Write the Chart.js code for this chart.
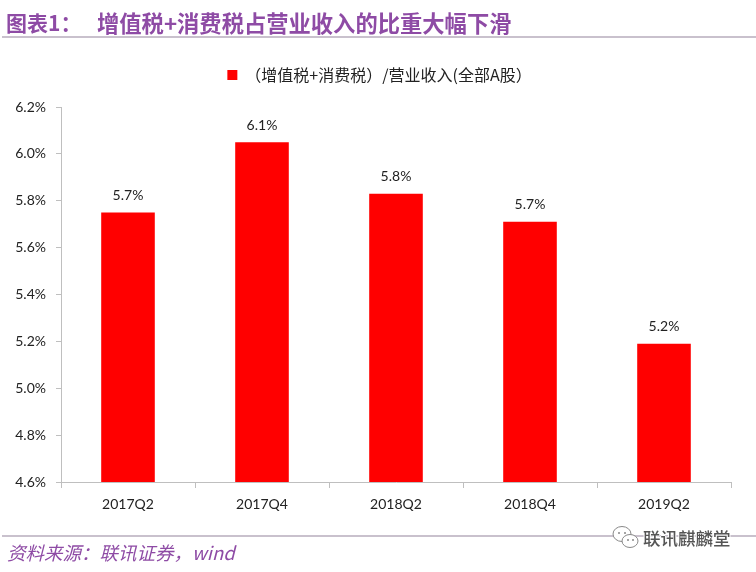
<!DOCTYPE html>
<html>
<head>
<meta charset="utf-8">
<script src="https://cdn.jsdelivr.net/npm/chart.js@4"></script>
<style>
  html, body { margin: 0; padding: 0; background: #fff; }
  #wrap { position: relative; width: 756px; height: 572px; overflow: hidden; }
  #myChart { position: absolute; left: 0; top: 0; }
  .txt { position: absolute; white-space: nowrap; font-family: "Noto Sans CJK SC", sans-serif; color: #8e4ba5; }
  #title1 { left: 6px; top: 4px; font-size: 21px; font-weight: 700; line-height: 36px; }
  #title2 { left: 97px; top: 4px; font-size: 22.3px; font-weight: 700; line-height: 36px; }
  #source { left: 7px; top: 538px; font-size: 18.5px; font-style: italic; line-height: 28px; }
  #mark { left: 643px; top: 525px; font-size: 17.5px; line-height: 26px; color: #555; font-weight: 500;
          text-shadow: 1px 0 #fff, -1px 0 #fff, 0 1px #fff, 0 -1px #fff; }
  .rule { position: absolute; left: 2px; width: 754px; height: 2px; background: #c9c1cd; }
  #icon { position: absolute; left: 611px; top: 524px; }
</style>
</head>
<body>
<div id="wrap">
  <canvas id="myChart" width="756" height="572"></canvas>
  <div class="txt" id="title1">图表1：</div>
  <div class="txt" id="title2">增值税+消费税占营业收入的比重大幅下滑</div>
  <div class="rule" style="top:36px"></div>
  <div class="rule" style="top:535px"></div>
  <div class="txt" id="source">资料来源：联讯证券，wind</div>
  <svg id="icon" width="30" height="28" viewBox="0 0 30 28">
    <ellipse cx="11" cy="10" rx="9" ry="7.5" fill="#fff" stroke="#888"/>
    <ellipse cx="19" cy="17" rx="8" ry="6.5" fill="#fff" stroke="#888"/>
    <circle cx="8" cy="9" r="1" fill="#888"/><circle cx="14" cy="9" r="1" fill="#888"/>
    <circle cx="17" cy="16" r="1" fill="#888"/><circle cx="22" cy="16" r="1" fill="#888"/>
  </svg>
  <div class="txt" id="mark">联讯麒麟堂</div>
</div>
<script>
const categories = ['2017Q2', '2017Q4', '2018Q2', '2018Q4', '2019Q2'];
const ratios = [5.75, 6.05, 5.83, 5.71, 5.19];
const barLabels = ['5.7%', '6.1%', '5.8%', '5.7%', '5.2%'];
const seriesName = '（增值税+消费税）/营业收入(全部A股）';

const axisColor = '#bfbfbf';
const textFont = { family: 'Lato, "Noto Sans CJK SC"', size: 14 };

// value labels above the bars
const barLabelPlugin = {
    id: 'barLabels',
    afterDatasetsDraw(chart) {
        const ctx = chart.ctx;
        ctx.save();
        ctx.font = '14px Lato';
        ctx.fillStyle = '#222';
        ctx.textAlign = 'center';
        ctx.textBaseline = 'middle';
        chart.getDatasetMeta(0).data.forEach((bar, i) => {
            ctx.fillText(barLabels[i], bar.x, bar.y - 17);
        });
        ctx.restore();
    }
};

// extra room under the legend, and centre it on the page instead of the plot
const legendPlacePlugin = {
    id: 'legendPlace',
    beforeInit(chart) {
        const fit = chart.legend.fit;
        chart.legend.fit = function () {
            fit.call(this);
            this.height += 14;
        };
    },
    afterLayout(chart) {
        chart.legend.left += 14;
        chart.legend.right += 14;
    }
};

const ctx = document.getElementById('myChart');

new Chart(ctx, {
    type: 'bar',
    data: {
        labels: categories,
        datasets: [{
            label: seriesName,
            data: ratios,
            backgroundColor: '#ff0000',
            barPercentage: 0.4,
            categoryPercentage: 1
        }]
    },
    plugins: [barLabelPlugin, legendPlacePlugin],
    options: {
        responsive: false,
        animation: false,
        layout: { padding: { top: 42, right: 25, left: 0, bottom: 0 } },
        plugins: {
            tooltip: { enabled: false },
            legend: {
                position: 'top',
                labels: {
                    boxWidth: 10,
                    boxHeight: 10,
                    padding: 25,
                    color: '#222',
                    font: { family: '"Noto Sans CJK SC"', size: 16 }
                }
            }
        },
        scales: {
            x: {
                afterFit(scale) { scale.height = 90; },
                border: { color: axisColor },
                grid: { drawOnChartArea: false, color: axisColor, tickLength: 6 },
                ticks: { color: '#222', font: textFont, padding: 8, maxRotation: 0 }
            },
            y: {
                min: 4.6,
                max: 6.2,
                afterFit(scale) { scale.width = 61; },
                border: { color: axisColor },
                grid: { drawOnChartArea: false, color: axisColor, tickLength: 5 },
                ticks: {
                    stepSize: 0.2,
                    color: '#222',
                    font: textFont,
                    padding: 10,
                    callback: v => v.toFixed(1) + '%'
                }
            }
        }
    }
});
</script>
</body>
</html>
